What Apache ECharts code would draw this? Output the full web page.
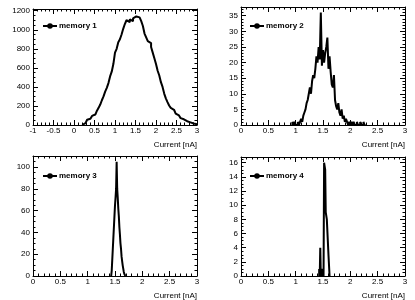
<!DOCTYPE html>
<html><head><meta charset="utf-8">
<script src="https://cdn.jsdelivr.net/npm/echarts@6/dist/echarts.min.js"></script>
<style>html,body{margin:0;padding:0;background:#fff}#c{width:415px;height:300px}</style>
</head><body><div id="c"></div>
<script>
// ---- data (bin low edge of first listed bin, bin width, counts) ----
const xTitle = 'Current [nA]';
const names = ['memory 1', 'memory 2', 'memory 3', 'memory 4'];

const mem1Start = 0.2, mem1Width = 0.04;
const mem1Counts = [12,20,35,55,65,80,95,110,125,150,180,215,260,300,350,390,440,510,560,640,
  760,800,870,900,950,1010,1060,1100,1080,1110,1090,1120,1140,1160,1130,1120,1090,1040,960,920,
  880,860,820,760,700,640,570,520,450,400,330,280,240,205,180,160,140,120,100,85,
  72,60,48,40,34,28,22,16,12,8];

const mem2Start = 0.94, mem2Width = 0.02;
const mem2Counts = [1,0,1,0,0,1,0,1,2,1,3,4,5,7,8,10,12,10,14,16,
  15,18,22,20,25,21,36,19,24,20,23,25,28,18,22,17,13,12,16,8,
  6,5,7,4,3,5,2,3,1,2,1,0,1,0,1,0,1,0,0,1,
  0,0,1,0,0,1,0];

const mem3Start = 1.43, mem3Width = 0.01;
const mem3Counts = [0,5,15,25,35,45,55,65,72,80,105,80,72,62,55,45,38,30,25,18,
  14,10,7,4,2,1,0];

const mem4Start = 1.43, mem4Width = 0.01;
const mem4Counts = [1,0,4,0,0,1,0,1,0,16,16,15,9,9,8,8,8,3,3,0];

const xRanges = [[-1,3],[0,3],[0,3],[0,3]];
const yMax = [1218, 37.8, 110.25, 16.8];
const yInterval = [200, 5, 20, 2];
const yMinorSplit = [4, 5, 4, 4];
// ---------------------------------------------------------------

function stepPoints(start, width, counts) {
  const pts = [[start, 0]];
  counts.forEach((c, i) => pts.push([start + i * width, c]));
  const end = start + counts.length * width;
  pts.push([end, counts[counts.length - 1]]);
  pts.push([end, 0]);
  return pts;
}
const hists = [
  stepPoints(mem1Start, mem1Width, mem1Counts),
  stepPoints(mem2Start, mem2Width, mem2Counts),
  stepPoints(mem3Start, mem3Width, mem3Counts),
  stepPoints(mem4Start, mem4Width, mem4Counts)
];

const FONT = 'Liberation Sans, Arial, Helvetica, sans-serif';
const grids = [
  {left: 33, top: 9, width: 164, height: 116},
  {left: 241, top: 7, width: 164, height: 118},
  {left: 33, top: 156, width: 164, height: 120},
  {left: 241, top: 157, width: 164, height: 119}
];
const legendPos = [{left: 42, top: 22}, {left: 249, top: 22}, {left: 42, top: 172}, {left: 249, top: 172}];

const xAxes = [], yAxes = [], series = [], legends = [];
grids.forEach((g, k) => {
  const lineStyle = {color: '#000', width: 1};
  const xr = xRanges[k];
  xAxes.push({
    type: 'value', gridIndex: k, position: 'bottom', min: xr[0], max: xr[1], interval: 0.5,
    axisLine: {show: true, onZero: false, lineStyle},
    axisTick: {show: true, inside: true, length: 5, lineStyle},
    minorTick: {show: true, splitNumber: 5, length: 2.5, lineStyle},
    splitLine: {show: false},
    axisLabel: {fontFamily: FONT, fontSize: 8, color: '#000', margin: 2,
      formatter: v => String(v)},
    name: xTitle, nameLocation: 'end', nameGap: 0,
    nameTextStyle: {fontFamily: FONT, fontSize: 8, color: '#000', align: 'right', verticalAlign: 'top', padding: [16, 0, 0, 0]}
  });
  xAxes.push({
    type: 'value', gridIndex: k, position: 'top', min: xr[0], max: xr[1], interval: 0.5,
    axisLine: {show: true, onZero: false, lineStyle},
    axisTick: {show: true, inside: true, length: 5, lineStyle},
    minorTick: {show: true, splitNumber: 5, length: 2.5, lineStyle},
    splitLine: {show: false}, axisLabel: {show: false}
  });
  yAxes.push({
    type: 'value', gridIndex: k, position: 'left', min: 0, max: yMax[k], interval: yInterval[k],
    axisLine: {show: true, onZero: false, lineStyle},
    axisTick: {show: true, inside: true, length: 5, lineStyle},
    minorTick: {show: true, splitNumber: yMinorSplit[k], length: 2.5, lineStyle},
    splitLine: {show: false},
    axisLabel: {fontFamily: FONT, fontSize: 8, color: '#000', margin: 3, showMaxLabel: false,
      formatter: v => String(v)}
  });
  yAxes.push({
    type: 'value', gridIndex: k, position: 'right', min: 0, max: yMax[k], interval: yInterval[k],
    axisLine: {show: true, onZero: false, lineStyle},
    axisTick: {show: true, inside: true, length: 5, lineStyle},
    minorTick: {show: true, splitNumber: yMinorSplit[k], length: 2.5, lineStyle},
    splitLine: {show: false}, axisLabel: {show: false}
  });
  series.push({
    name: names[k], type: 'line', xAxisIndex: 2 * k, yAxisIndex: 2 * k,
    data: hists[k], step: 'end', symbol: 'circle', symbolSize: 6, showSymbol: false,
    lineStyle: {color: '#000', width: 2}, itemStyle: {color: '#000'},
    silent: true, animation: false
  });
  legends.push({
    data: [names[k]], left: legendPos[k].left, top: legendPos[k].top, orient: 'vertical',
    itemWidth: 14, itemHeight: 7, itemGap: 2, padding: 0,
    textStyle: {fontFamily: FONT, fontSize: 8, fontWeight: 'bold', color: '#000', padding: [0, 0, 0, -3]},
    selectedMode: false
  });
});

const chart = echarts.init(document.getElementById('c'), null, {renderer: 'canvas'});
chart.setOption({
  animation: false,
  grid: grids,
  xAxis: xAxes,
  yAxis: yAxes,
  legend: legends,
  series: series
});
</script>
</body></html>
